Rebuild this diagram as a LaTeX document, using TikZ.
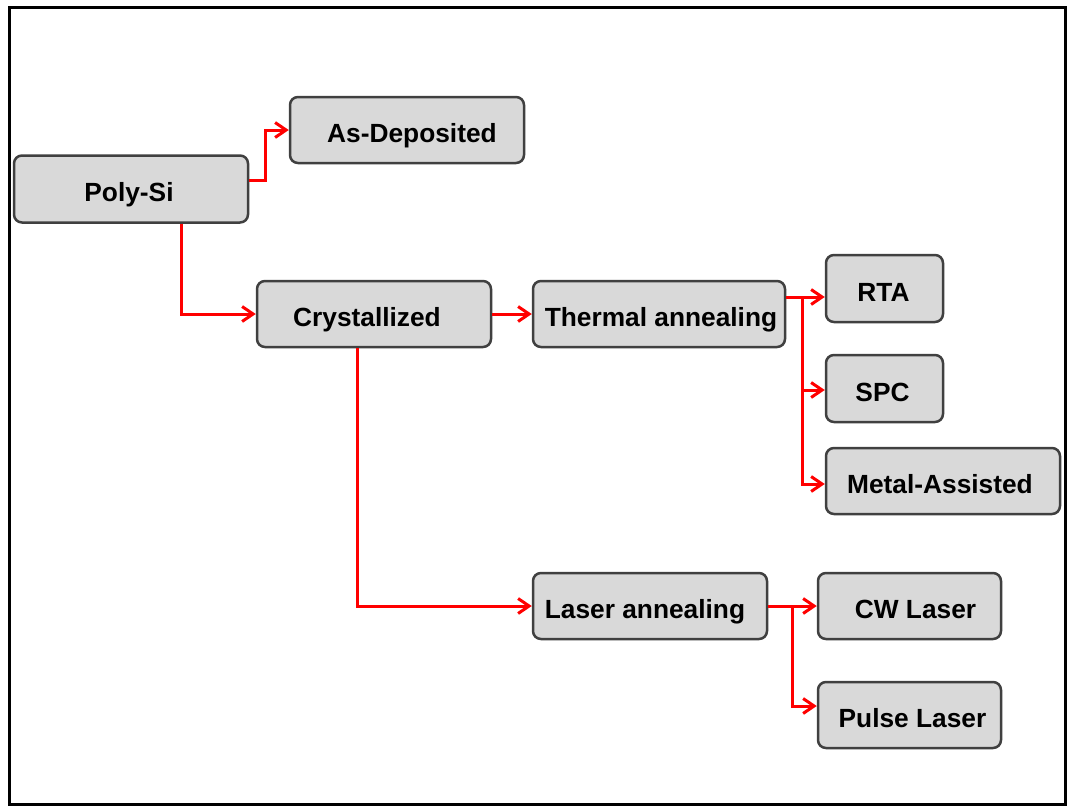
\documentclass[tikz,border=0pt]{standalone}
\usepackage{fontspec}
\setmainfont{Liberation Sans}
\usetikzlibrary{arrows.meta}
\definecolor{boxfill}{HTML}{D9D9D9}
\definecolor{boxline}{HTML}{404040}
\newcommand\tsh[2]{\hspace*{#1}#2\hspace*{-#1}}
\tikzset{
  box/.style={draw=boxline, fill=boxfill, line width=2.5pt, rounded corners=8pt,
    inner sep=0pt, align=center, text height=25.6pt, text depth=0pt,
    font=\fontsize{26.3}{30}\selectfont\bfseries},
  conn/.style={draw=red, line width=3pt, -{Straight Barb[length=11pt,width=15pt,line width=3pt]}}
}
\begin{document}
\begin{tikzpicture}[x=1pt,y=-1pt]
\useasboundingbox (0,0) rectangle (1068,806);
\fill[white] (0,0) rectangle (1068,806);
\draw[line width=3pt] (9.5,7.5) rectangle (1065.5,804);

\node[box, minimum width=234pt, minimum height=67pt] (poly) at (131,189) {\tsh{-2pt}{Poly-Si}};
\node[box, minimum width=234pt, minimum height=66pt] (asdep) at (407,130) {\tsh{5pt}{As-Deposited}};
\node[box, minimum width=234pt, minimum height=66pt] (cryst) at (374,314) {\tsh{-7pt}{Crystallized}};
\node[box, minimum width=252pt, minimum height=66pt] (therm) at (659,314) {\tsh{2pt}{Thermal annealing}};
\node[box, minimum width=117pt, minimum height=67pt] (rta) at (884.5,288.5) {\tsh{-1pt}{RTA}};
\node[box, minimum width=117pt, minimum height=67pt] (spc) at (884.5,388.5) {\tsh{-2pt}{SPC}};
\node[box, minimum width=234pt, minimum height=66pt] (metal) at (943,481) {\tsh{-3pt}{Metal-Assisted}};
\node[box, minimum width=234pt, minimum height=66pt] (laser) at (650,606) {\tsh{-5pt}{Laser annealing}};
\node[box, minimum width=183pt, minimum height=66pt] (cw) at (909.5,606) {\tsh{6pt}{CW Laser}};
\node[box, minimum width=183pt, minimum height=66pt] (pulse) at (909.5,715) {\tsh{3pt}{Pulse Laser}};

\coordinate (tj) at (802,297);
\coordinate (lj) at (792,606);

\draw[conn] (poly.east |- 0,180) -- (265,180) |- (asdep.west);
\draw[conn] (poly.south -| 181,0) |- (cryst.west);
\draw[conn] (cryst) -- (therm);
\draw[conn] (cryst.south -| 357,0) |- (laser.west);
\draw[conn] (therm.east |- tj) -- (rta.west |- tj);
\draw[conn] (tj) |- (spc.west |- 0,390);
\draw[conn] (tj) |- (metal.west |- 0,484);
\draw[conn] (laser) -- (cw);
\draw[conn] (lj) |- (pulse.west |- 0,706);
\end{tikzpicture}
\end{document}
